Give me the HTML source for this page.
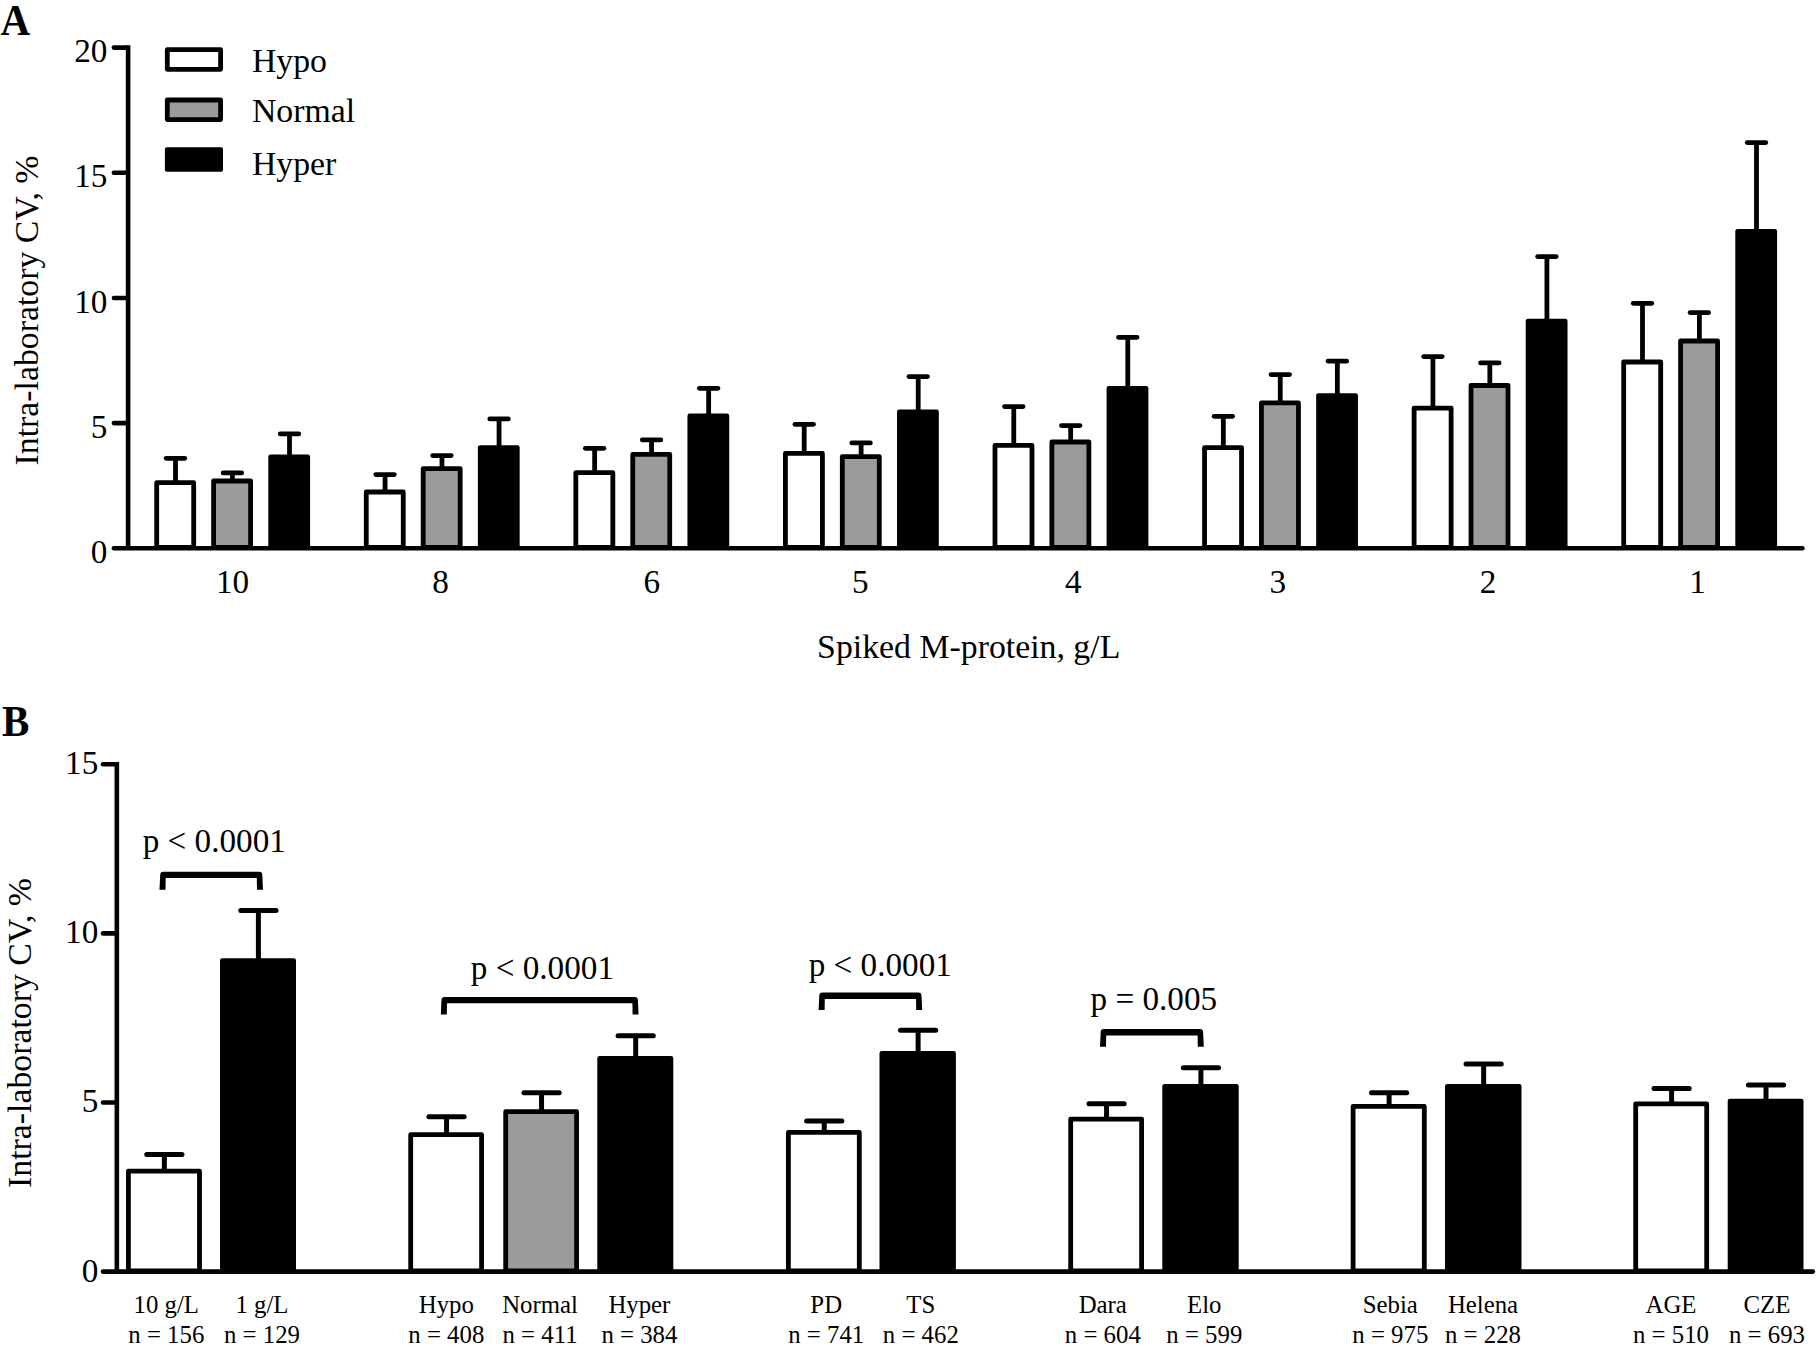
<!DOCTYPE html>
<html lang="en"><head><meta charset="utf-8"><title>Intra-laboratory CV</title>
<style>
html,body{margin:0;padding:0;background:#fff;}
svg{display:block;}
text{font-family:"Liberation Serif","Times New Roman",Times,serif;fill:#000;}
.t33{font-size:33px;}
.t33d{font-size:34.3px;}
.t34{font-size:33.8px;}
.t24{font-size:24.8px;}
.tb{font-size:41px;font-weight:bold;}
</style></head>
<body>
<svg width="1818" height="1349" viewBox="0 0 1818 1349">
<rect width="1818" height="1349" fill="#fff"/>
<g id="panelA">
<path d="M175.50 482.30V458.30" stroke="#000" stroke-width="4.8" fill="none"/><path d="M166.25 458.30H184.75" stroke="#000" stroke-width="4.8" stroke-linecap="round" fill="none"/>
<rect x="156.70" y="482.70" width="37.00" height="64.80" fill="#fff" stroke="#000" stroke-width="4.8" stroke-linejoin="round"/>
<path d="M232.40 480.60V472.90" stroke="#000" stroke-width="4.8" fill="none"/><path d="M223.15 472.90H241.65" stroke="#000" stroke-width="4.8" stroke-linecap="round" fill="none"/>
<rect x="213.60" y="481.00" width="37.00" height="66.50" fill="#9a9c9a" stroke="#000" stroke-width="4.8" stroke-linejoin="round"/>
<path d="M289.50 456.60V433.90" stroke="#000" stroke-width="4.8" fill="none"/><path d="M280.25 433.90H298.75" stroke="#000" stroke-width="4.8" stroke-linecap="round" fill="none"/>
<rect x="268.30" y="454.60" width="41.80" height="93.70" rx="2.3" fill="#000"/>
<path d="M385.07 491.60V474.60" stroke="#000" stroke-width="4.8" fill="none"/><path d="M375.82 474.60H394.32" stroke="#000" stroke-width="4.8" stroke-linecap="round" fill="none"/>
<rect x="366.27" y="492.00" width="37.00" height="55.50" fill="#fff" stroke="#000" stroke-width="4.8" stroke-linejoin="round"/>
<path d="M441.97 468.30V455.60" stroke="#000" stroke-width="4.8" fill="none"/><path d="M432.72 455.60H451.22" stroke="#000" stroke-width="4.8" stroke-linecap="round" fill="none"/>
<rect x="423.17" y="468.70" width="37.00" height="78.80" fill="#9a9c9a" stroke="#000" stroke-width="4.8" stroke-linejoin="round"/>
<path d="M499.07 447.30V418.90" stroke="#000" stroke-width="4.8" fill="none"/><path d="M489.82 418.90H508.32" stroke="#000" stroke-width="4.8" stroke-linecap="round" fill="none"/>
<rect x="477.87" y="445.30" width="41.80" height="103.00" rx="2.3" fill="#000"/>
<path d="M594.64 472.30V448.30" stroke="#000" stroke-width="4.8" fill="none"/><path d="M585.39 448.30H603.89" stroke="#000" stroke-width="4.8" stroke-linecap="round" fill="none"/>
<rect x="575.84" y="472.70" width="37.00" height="74.80" fill="#fff" stroke="#000" stroke-width="4.8" stroke-linejoin="round"/>
<path d="M651.54 454.00V439.90" stroke="#000" stroke-width="4.8" fill="none"/><path d="M642.29 439.90H660.79" stroke="#000" stroke-width="4.8" stroke-linecap="round" fill="none"/>
<rect x="632.74" y="454.40" width="37.00" height="93.10" fill="#9a9c9a" stroke="#000" stroke-width="4.8" stroke-linejoin="round"/>
<path d="M708.64 415.60V388.30" stroke="#000" stroke-width="4.8" fill="none"/><path d="M699.39 388.30H717.89" stroke="#000" stroke-width="4.8" stroke-linecap="round" fill="none"/>
<rect x="687.44" y="413.60" width="41.80" height="134.70" rx="2.3" fill="#000"/>
<path d="M804.21 453.00V424.30" stroke="#000" stroke-width="4.8" fill="none"/><path d="M794.96 424.30H813.46" stroke="#000" stroke-width="4.8" stroke-linecap="round" fill="none"/>
<rect x="785.41" y="453.40" width="37.00" height="94.10" fill="#fff" stroke="#000" stroke-width="4.8" stroke-linejoin="round"/>
<path d="M861.11 456.30V442.90" stroke="#000" stroke-width="4.8" fill="none"/><path d="M851.86 442.90H870.36" stroke="#000" stroke-width="4.8" stroke-linecap="round" fill="none"/>
<rect x="842.31" y="456.70" width="37.00" height="90.80" fill="#9a9c9a" stroke="#000" stroke-width="4.8" stroke-linejoin="round"/>
<path d="M918.21 411.60V376.60" stroke="#000" stroke-width="4.8" fill="none"/><path d="M908.96 376.60H927.46" stroke="#000" stroke-width="4.8" stroke-linecap="round" fill="none"/>
<rect x="897.01" y="409.60" width="41.80" height="138.70" rx="2.3" fill="#000"/>
<path d="M1013.78 445.00V406.60" stroke="#000" stroke-width="4.8" fill="none"/><path d="M1004.53 406.60H1023.03" stroke="#000" stroke-width="4.8" stroke-linecap="round" fill="none"/>
<rect x="994.98" y="445.40" width="37.00" height="102.10" fill="#fff" stroke="#000" stroke-width="4.8" stroke-linejoin="round"/>
<path d="M1070.68 441.60V425.60" stroke="#000" stroke-width="4.8" fill="none"/><path d="M1061.43 425.60H1079.93" stroke="#000" stroke-width="4.8" stroke-linecap="round" fill="none"/>
<rect x="1051.88" y="442.00" width="37.00" height="105.50" fill="#9a9c9a" stroke="#000" stroke-width="4.8" stroke-linejoin="round"/>
<path d="M1127.78 388.00V337.30" stroke="#000" stroke-width="4.8" fill="none"/><path d="M1118.53 337.30H1137.03" stroke="#000" stroke-width="4.8" stroke-linecap="round" fill="none"/>
<rect x="1106.58" y="386.00" width="41.80" height="162.30" rx="2.3" fill="#000"/>
<path d="M1223.35 447.30V416.30" stroke="#000" stroke-width="4.8" fill="none"/><path d="M1214.10 416.30H1232.60" stroke="#000" stroke-width="4.8" stroke-linecap="round" fill="none"/>
<rect x="1204.55" y="447.70" width="37.00" height="99.80" fill="#fff" stroke="#000" stroke-width="4.8" stroke-linejoin="round"/>
<path d="M1280.25 402.50V374.60" stroke="#000" stroke-width="4.8" fill="none"/><path d="M1271.00 374.60H1289.50" stroke="#000" stroke-width="4.8" stroke-linecap="round" fill="none"/>
<rect x="1261.45" y="402.90" width="37.00" height="144.60" fill="#9a9c9a" stroke="#000" stroke-width="4.8" stroke-linejoin="round"/>
<path d="M1337.35 395.30V361.20" stroke="#000" stroke-width="4.8" fill="none"/><path d="M1328.10 361.20H1346.60" stroke="#000" stroke-width="4.8" stroke-linecap="round" fill="none"/>
<rect x="1316.15" y="393.30" width="41.80" height="155.00" rx="2.3" fill="#000"/>
<path d="M1432.92 407.70V356.60" stroke="#000" stroke-width="4.8" fill="none"/><path d="M1423.67 356.60H1442.17" stroke="#000" stroke-width="4.8" stroke-linecap="round" fill="none"/>
<rect x="1414.12" y="408.10" width="37.00" height="139.40" fill="#fff" stroke="#000" stroke-width="4.8" stroke-linejoin="round"/>
<path d="M1489.82 385.10V362.90" stroke="#000" stroke-width="4.8" fill="none"/><path d="M1480.57 362.90H1499.07" stroke="#000" stroke-width="4.8" stroke-linecap="round" fill="none"/>
<rect x="1471.02" y="385.50" width="37.00" height="162.00" fill="#9a9c9a" stroke="#000" stroke-width="4.8" stroke-linejoin="round"/>
<path d="M1546.92 320.80V256.60" stroke="#000" stroke-width="4.8" fill="none"/><path d="M1537.67 256.60H1556.17" stroke="#000" stroke-width="4.8" stroke-linecap="round" fill="none"/>
<rect x="1525.72" y="318.80" width="41.80" height="229.50" rx="2.3" fill="#000"/>
<path d="M1642.49 361.60V303.30" stroke="#000" stroke-width="4.8" fill="none"/><path d="M1633.24 303.30H1651.74" stroke="#000" stroke-width="4.8" stroke-linecap="round" fill="none"/>
<rect x="1623.69" y="362.00" width="37.00" height="185.50" fill="#fff" stroke="#000" stroke-width="4.8" stroke-linejoin="round"/>
<path d="M1699.39 340.60V312.60" stroke="#000" stroke-width="4.8" fill="none"/><path d="M1690.14 312.60H1708.64" stroke="#000" stroke-width="4.8" stroke-linecap="round" fill="none"/>
<rect x="1680.59" y="341.00" width="37.00" height="206.50" fill="#9a9c9a" stroke="#000" stroke-width="4.8" stroke-linejoin="round"/>
<path d="M1756.49 231.00V142.60" stroke="#000" stroke-width="4.8" fill="none"/><path d="M1747.24 142.60H1765.74" stroke="#000" stroke-width="4.8" stroke-linecap="round" fill="none"/>
<rect x="1735.29" y="229.00" width="41.80" height="319.30" rx="2.3" fill="#000"/>
<path d="M128.1 45.3V548.3" stroke="#000" stroke-width="4.6" fill="none"/>
<path d="M113.90 548.3H1802.40" stroke="#000" stroke-width="4.6" stroke-linecap="round" fill="none"/>
<path d="M113.90 423.12H126.6" stroke="#000" stroke-width="4.6" stroke-linecap="round" fill="none"/>
<path d="M113.90 297.95H126.6" stroke="#000" stroke-width="4.6" stroke-linecap="round" fill="none"/>
<path d="M113.90 172.77H126.6" stroke="#000" stroke-width="4.6" stroke-linecap="round" fill="none"/>
<path d="M113.90 47.60H126.6" stroke="#000" stroke-width="4.6" stroke-linecap="round" fill="none"/>
<text transform="translate(107.40 562.90) scale(0.968 1)" text-anchor="end" class="t33d">0</text>
<text transform="translate(107.40 437.72) scale(0.968 1)" text-anchor="end" class="t33d">5</text>
<text transform="translate(107.40 312.55) scale(0.968 1)" text-anchor="end" class="t33d">10</text>
<text transform="translate(107.40 187.37) scale(0.968 1)" text-anchor="end" class="t33d">15</text>
<text transform="translate(107.40 62.20) scale(0.968 1)" text-anchor="end" class="t33d">20</text>
<text transform="translate(232.50 592.90) scale(0.968 1)" text-anchor="middle" class="t33d">10</text>
<text transform="translate(440.47 592.90) scale(0.968 1)" text-anchor="middle" class="t33d">8</text>
<text transform="translate(651.84 592.90) scale(0.968 1)" text-anchor="middle" class="t33d">6</text>
<text transform="translate(860.31 592.90) scale(0.968 1)" text-anchor="middle" class="t33d">5</text>
<text transform="translate(1073.28 592.90) scale(0.968 1)" text-anchor="middle" class="t33d">4</text>
<text transform="translate(1277.85 592.90) scale(0.968 1)" text-anchor="middle" class="t33d">3</text>
<text transform="translate(1488.12 592.90) scale(0.968 1)" text-anchor="middle" class="t33d">2</text>
<text transform="translate(1697.49 592.90) scale(0.968 1)" text-anchor="middle" class="t33d">1</text>
<text x="968.7" y="658.3" text-anchor="middle" class="t34">Spiked M-protein, g/L</text>
<text transform="translate(38.2 310.5) rotate(-90)" text-anchor="middle" class="t34">Intra-laboratory CV, %</text>
<rect x="167.30" y="49.70" width="53.30" height="19.60" fill="#fff" stroke="#000" stroke-width="4.8" stroke-linejoin="round"/>
<rect x="167.30" y="100.00" width="53.30" height="19.60" fill="#9a9c9a" stroke="#000" stroke-width="4.8" stroke-linejoin="round"/>
<rect x="164.9" y="147.3" width="58.1" height="24.4" rx="1.8" fill="#000"/>
<text x="251.9" y="71.7" class="t34">Hypo</text>
<text x="251.9" y="122.4" class="t34">Normal</text>
<text x="251.9" y="174.7" class="t34">Hyper</text>
<text transform="translate(0.6 34.9) scale(1 1.07)" class="tb">A</text>
</g>
<g id="panelB">
<path d="M164.35 1170.80V1154.60" stroke="#000" stroke-width="5.0" fill="none"/><path d="M146.75 1154.60H181.95" stroke="#000" stroke-width="5.0" stroke-linecap="round" fill="none"/>
<rect x="128.40" y="1171.20" width="71.10" height="99.60" fill="#fff" stroke="#000" stroke-width="4.8" stroke-linejoin="round"/>
<path d="M258.40 960.30V910.50" stroke="#000" stroke-width="5.0" fill="none"/><path d="M240.80 910.50H276.00" stroke="#000" stroke-width="5.0" stroke-linecap="round" fill="none"/>
<rect x="220.00" y="958.30" width="76.00" height="313.30" rx="2.3" fill="#000"/>
<path d="M446.55 1134.30V1116.70" stroke="#000" stroke-width="5.0" fill="none"/><path d="M428.95 1116.70H464.15" stroke="#000" stroke-width="5.0" stroke-linecap="round" fill="none"/>
<rect x="410.70" y="1134.70" width="70.90" height="136.10" fill="#fff" stroke="#000" stroke-width="4.8" stroke-linejoin="round"/>
<path d="M541.55 1111.30V1092.70" stroke="#000" stroke-width="5.0" fill="none"/><path d="M523.95 1092.70H559.15" stroke="#000" stroke-width="5.0" stroke-linecap="round" fill="none"/>
<rect x="505.70" y="1111.70" width="70.90" height="159.10" fill="#9a9c9a" stroke="#000" stroke-width="4.8" stroke-linejoin="round"/>
<path d="M635.70 1058.00V1035.70" stroke="#000" stroke-width="5.0" fill="none"/><path d="M618.10 1035.70H653.30" stroke="#000" stroke-width="5.0" stroke-linecap="round" fill="none"/>
<rect x="597.30" y="1056.00" width="76.00" height="215.60" rx="2.3" fill="#000"/>
<path d="M824.25 1132.00V1121.00" stroke="#000" stroke-width="5.0" fill="none"/><path d="M806.65 1121.00H841.85" stroke="#000" stroke-width="5.0" stroke-linecap="round" fill="none"/>
<rect x="788.40" y="1132.40" width="70.90" height="138.40" fill="#fff" stroke="#000" stroke-width="4.8" stroke-linejoin="round"/>
<path d="M918.10 1053.10V1030.20" stroke="#000" stroke-width="5.0" fill="none"/><path d="M900.50 1030.20H935.70" stroke="#000" stroke-width="5.0" stroke-linecap="round" fill="none"/>
<rect x="879.50" y="1051.10" width="76.40" height="220.50" rx="2.3" fill="#000"/>
<path d="M1106.55 1118.70V1103.70" stroke="#000" stroke-width="5.0" fill="none"/><path d="M1088.95 1103.70H1124.15" stroke="#000" stroke-width="5.0" stroke-linecap="round" fill="none"/>
<rect x="1070.70" y="1119.10" width="70.90" height="151.70" fill="#fff" stroke="#000" stroke-width="4.8" stroke-linejoin="round"/>
<path d="M1200.90 1086.00V1067.70" stroke="#000" stroke-width="5.0" fill="none"/><path d="M1183.30 1067.70H1218.50" stroke="#000" stroke-width="5.0" stroke-linecap="round" fill="none"/>
<rect x="1162.30" y="1084.00" width="76.40" height="187.60" rx="2.3" fill="#000"/>
<path d="M1389.10 1106.00V1092.70" stroke="#000" stroke-width="5.0" fill="none"/><path d="M1371.50 1092.70H1406.70" stroke="#000" stroke-width="5.0" stroke-linecap="round" fill="none"/>
<rect x="1353.10" y="1106.40" width="71.20" height="164.40" fill="#fff" stroke="#000" stroke-width="4.8" stroke-linejoin="round"/>
<path d="M1483.65 1086.00V1064.00" stroke="#000" stroke-width="5.0" fill="none"/><path d="M1466.05 1064.00H1501.25" stroke="#000" stroke-width="5.0" stroke-linecap="round" fill="none"/>
<rect x="1445.00" y="1084.00" width="76.50" height="187.60" rx="2.3" fill="#000"/>
<path d="M1671.60 1103.40V1088.50" stroke="#000" stroke-width="5.0" fill="none"/><path d="M1654.00 1088.50H1689.20" stroke="#000" stroke-width="5.0" stroke-linecap="round" fill="none"/>
<rect x="1635.70" y="1103.80" width="71.00" height="167.00" fill="#fff" stroke="#000" stroke-width="4.8" stroke-linejoin="round"/>
<path d="M1766.00 1100.80V1085.10" stroke="#000" stroke-width="5.0" fill="none"/><path d="M1748.40 1085.10H1783.60" stroke="#000" stroke-width="5.0" stroke-linecap="round" fill="none"/>
<rect x="1727.70" y="1098.80" width="75.80" height="172.80" rx="2.3" fill="#000"/>
<path d="M116.85 762V1271.6" stroke="#000" stroke-width="4.6" fill="none"/>
<path d="M103.00 1271.6H1812.90" stroke="#000" stroke-width="4.6" stroke-linecap="round" fill="none"/>
<path d="M103.00 1102.50H115.35" stroke="#000" stroke-width="4.6" stroke-linecap="round" fill="none"/>
<path d="M103.00 933.40H115.35" stroke="#000" stroke-width="4.6" stroke-linecap="round" fill="none"/>
<path d="M103.00 764.30H115.35" stroke="#000" stroke-width="4.6" stroke-linecap="round" fill="none"/>
<text transform="translate(98.30 1281.50) scale(0.968 1)" text-anchor="end" class="t33d">0</text>
<text transform="translate(98.30 1112.40) scale(0.968 1)" text-anchor="end" class="t33d">5</text>
<text transform="translate(98.30 943.30) scale(0.968 1)" text-anchor="end" class="t33d">10</text>
<text transform="translate(98.30 774.20) scale(0.968 1)" text-anchor="end" class="t33d">15</text>
<text x="166.3" y="1313.2" text-anchor="middle" class="t24">10 g/L</text>
<text x="166.3" y="1342.5" text-anchor="middle" class="t24">n = 156</text>
<text x="262" y="1313.2" text-anchor="middle" class="t24">1 g/L</text>
<text x="262" y="1342.5" text-anchor="middle" class="t24">n = 129</text>
<text x="446.3" y="1313.2" text-anchor="middle" class="t24">Hypo</text>
<text x="446.3" y="1342.5" text-anchor="middle" class="t24">n = 408</text>
<text x="540" y="1313.2" text-anchor="middle" class="t24">Normal</text>
<text x="540" y="1342.5" text-anchor="middle" class="t24">n = 411</text>
<text x="639.4" y="1313.2" text-anchor="middle" class="t24">Hyper</text>
<text x="639.4" y="1342.5" text-anchor="middle" class="t24">n = 384</text>
<text x="826.2" y="1313.2" text-anchor="middle" class="t24">PD</text>
<text x="826.2" y="1342.5" text-anchor="middle" class="t24">n = 741</text>
<text x="920.8" y="1313.2" text-anchor="middle" class="t24">TS</text>
<text x="920.8" y="1342.5" text-anchor="middle" class="t24">n = 462</text>
<text x="1102.8" y="1313.2" text-anchor="middle" class="t24">Dara</text>
<text x="1102.8" y="1342.5" text-anchor="middle" class="t24">n = 604</text>
<text x="1204.3" y="1313.2" text-anchor="middle" class="t24">Elo</text>
<text x="1204.3" y="1342.5" text-anchor="middle" class="t24">n = 599</text>
<text x="1390.3" y="1313.2" text-anchor="middle" class="t24">Sebia</text>
<text x="1390.3" y="1342.5" text-anchor="middle" class="t24">n = 975</text>
<text x="1483" y="1313.2" text-anchor="middle" class="t24">Helena</text>
<text x="1483" y="1342.5" text-anchor="middle" class="t24">n = 228</text>
<text x="1671" y="1313.2" text-anchor="middle" class="t24">AGE</text>
<text x="1671" y="1342.5" text-anchor="middle" class="t24">n = 510</text>
<text x="1767" y="1313.2" text-anchor="middle" class="t24">CZE</text>
<text x="1767" y="1342.5" text-anchor="middle" class="t24">n = 693</text>
<text transform="translate(214.30 852.00) scale(0.968 1)" text-anchor="middle" class="t33d">p &lt; 0.0001</text>
<text transform="translate(542.40 979.40) scale(0.968 1)" text-anchor="middle" class="t33d">p &lt; 0.0001</text>
<text transform="translate(880.30 976.30) scale(0.968 1)" text-anchor="middle" class="t33d">p &lt; 0.0001</text>
<text transform="translate(1153.80 1010.00) scale(0.968 1)" text-anchor="middle" class="t33d">p = 0.005</text>
<path d="M159.50 889.8L160.20 875.00Q160.20 871.80 163.40 871.80H259.10Q262.30 871.80 262.30 875.00L263.00 889.8H257.00L256.80 878.10H165.70L165.50 889.8Z" fill="#000"/>
<path d="M440.80 1014.4L441.50 1000.20Q441.50 997.00 444.70 997.00H634.70Q637.90 997.00 637.90 1000.20L638.60 1014.4H632.60L632.40 1003.30H447.00L446.80 1014.4Z" fill="#000"/>
<path d="M818.60 1010.1L819.30 995.80Q819.30 992.60 822.50 992.60H918.30Q921.50 992.60 921.50 995.80L922.20 1010.1H916.20L916.00 998.90H824.80L824.60 1010.1Z" fill="#000"/>
<path d="M1100.00 1046.8L1100.70 1032.30Q1100.70 1029.10 1103.90 1029.10H1199.90Q1203.10 1029.10 1203.10 1032.30L1203.80 1046.8H1197.80L1197.60 1035.40H1106.20L1106.00 1046.8Z" fill="#000"/>
<text transform="translate(30.7 1033) rotate(-90)" text-anchor="middle" class="t34">Intra-laboratory CV, %</text>
<text transform="translate(2.1 735.9) scale(1 1.07)" class="tb">B</text>
</g>
</svg>
</body></html>
